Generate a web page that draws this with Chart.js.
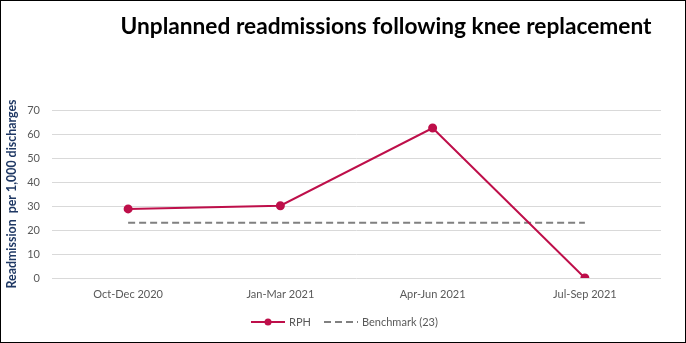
<!DOCTYPE html>
<html>
<head>
<meta charset="utf-8">
<script src="https://cdn.jsdelivr.net/npm/chart.js@4/dist/chart.umd.min.js"></script>
<style>
  html, body { margin: 0; padding: 0; background: #fff; }
  #wrap { position: relative; width: 686px; height: 343px; }
</style>
</head>
<body>
<div id="wrap"><canvas id="c" width="686" height="343"></canvas></div>
<script>
const chartTitle = "Unplanned readmissions following knee replacement";
const yAxisTitle = "Readmission  per 1,000 discharges";
const categories = ["Oct-Dec 2020", "Jan-Mar 2021", "Apr-Jun 2021", "Jul-Sep 2021"];
const rphValues = [28.8, 30.1, 62.5, 0];
const benchmarkValues = [23, 23, 23, 23];
const seriesNames = ["RPH", "Benchmark (23)"];

const FONT = "Lato, 'Open Sans', sans-serif";
const RED = "#BE0F4A";
const GREY = "#808080";
const TXT = "#595959";

const decor = {
  id: "decor",
  afterDraw(chart) {
    const ctx = chart.ctx;
    ctx.save();
    // border
    ctx.strokeStyle = "#000";
    ctx.lineWidth = 1;
    ctx.strokeRect(0.5, 0.5, chart.width - 1, chart.height - 1);
    // title
    ctx.fillStyle = "#000";
    ctx.font = "bold 22.7px " + FONT;
    ctx.textAlign = "center";
    ctx.textBaseline = "middle";
    ctx.fillText(chartTitle, 386, 27);
    // legend
    ctx.font = "11px " + FONT;
    ctx.textBaseline = "middle";
    ctx.textAlign = "left";
    const ly = 322;
    let x = 251;
    const ds = chart.data.datasets;
    // RPH
    ctx.strokeStyle = ds[0].borderColor;
    ctx.lineWidth = 2;
    ctx.beginPath(); ctx.moveTo(x, ly); ctx.lineTo(x + 34, ly); ctx.stroke();
    ctx.fillStyle = ds[0].borderColor;
    ctx.beginPath(); ctx.arc(x + 17, ly, 3.5, 0, Math.PI * 2); ctx.fill();
    ctx.fillStyle = TXT;
    ctx.fillText(ds[0].label, x + 38, ly);
    x = 324;
    ctx.strokeStyle = ds[1].borderColor;
    ctx.setLineDash(ds[1].borderDash);
    ctx.beginPath(); ctx.moveTo(x, ly); ctx.lineTo(x + 34, ly); ctx.stroke();
    ctx.setLineDash([]);
    ctx.fillText(ds[1].label, x + 38, ly);
    ctx.restore();
  }
};

new Chart(document.getElementById("c"), {
  type: "line",
  data: {
    labels: categories,
    datasets: [
      {
        label: seriesNames[0],
        data: rphValues,
        borderColor: RED,
        backgroundColor: RED,
        borderWidth: 2,
        pointRadius: 3.5,
        pointBackgroundColor: RED,
        pointBorderColor: RED,
        tension: 0
      },
      {
        label: seriesNames[1],
        data: benchmarkValues,
        borderColor: GREY,
        backgroundColor: GREY,
        borderWidth: 2,
        borderDash: [7, 4],
        pointRadius: 0,
        tension: 0
      }
    ]
  },
  options: {
    responsive: false,
    animation: false,
    layout: { padding: { left: 0, top: 110, right: 25, bottom: 35 } },
    plugins: {
      legend: { display: false },
      title: { display: false },
      tooltip: { enabled: false }
    },
    scales: {
      x: {
        offset: true,
        grid: { display: false, drawTicks: false },
        border: { display: false },
        ticks: { color: TXT, font: { family: FONT, size: 11 }, padding: 10, maxRotation: 0 },
        afterFit(s) { s.height = 30; }
      },
      y: {
        min: 0, max: 70,
        ticks: { stepSize: 10, color: TXT, font: { family: FONT, size: 11 }, padding: 12 },
        grid: { color: "#D9D9D9", lineWidth: 1, drawTicks: false },
        border: { display: false },
        title: {
          display: true,
          text: yAxisTitle,
          color: "#1F3864",
          font: { family: FONT, size: 12.4, weight: "bold" },
          padding: { top: 5, bottom: 0 }
        },
        afterFit(s) { s.width = 52; }
      }
    }
  },
  plugins: [decor]
});
</script>
</body>
</html>
